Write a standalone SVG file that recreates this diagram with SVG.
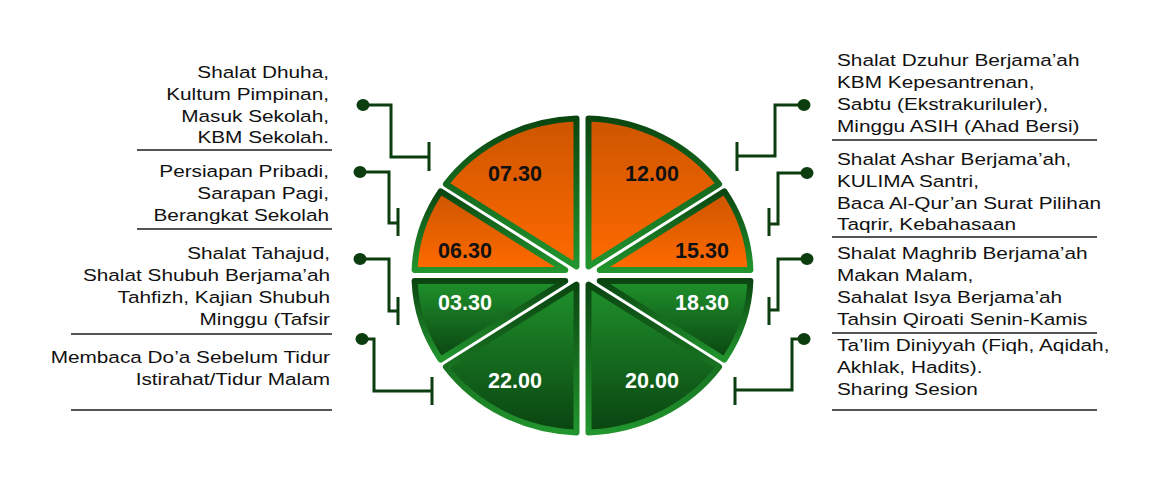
<svg xmlns="http://www.w3.org/2000/svg" width="1160" height="489" viewBox="0 0 1160 489">
<defs>
<linearGradient id="gOr" x1="0" y1="0" x2="0" y2="1"><stop offset="0" stop-color="#cc5500"/><stop offset="1" stop-color="#ff6a00"/></linearGradient>
<linearGradient id="gGr" x1="0" y1="0" x2="0" y2="1"><stop offset="0" stop-color="#1f912b"/><stop offset="1" stop-color="#0a4411"/></linearGradient>
<linearGradient id="gSt" x1="0" y1="0" x2="0" y2="1"><stop offset="0" stop-color="#0b4611"/><stop offset="1" stop-color="#22952e"/></linearGradient>
<style>
.sl{stroke:url(#gSt);stroke-width:6;stroke-linejoin:round}
.or{fill:url(#gOr)}
.gr{fill:url(#gGr)}
.num{font-family:"Liberation Sans",Arial,sans-serif;font-weight:bold;font-size:21.5px;text-anchor:middle}
.dk{fill:#111}
.wt{fill:#fff}
.cn{fill:none;stroke:#0b3d0f;stroke-width:3}
.dot{fill:#0b3d0f}
.lbl{font-family:"Liberation Sans",Arial,sans-serif;font-size:16.5px;fill:#111}
.sep{stroke:#555;stroke-width:2}
</style>
</defs>
<g id="pie">
<g id="s0730"><path class="sl or" d="M 576.5 266.4 L 576.5 118.6 A 168 157 0 0 0 445.9 184.1 Z"/><text class="num dk" x="515" y="181">07.30</text></g>
<g id="s1200"><path class="sl or" d="M 588.5 266.4 L 588.5 118.6 A 168 157 0 0 1 719.1 184.1 Z"/><text class="num dk" x="652" y="181">12.00</text></g>
<g id="s0630"><path class="sl or" d="M 565.3 270 L 440.6 191.4 A 168 157 0 0 0 414.6 270 Z"/><text class="num dk" x="465" y="258">06.30</text></g>
<g id="s1530"><path class="sl or" d="M 599.7 270 L 724.4 191.4 A 168 157 0 0 1 750.4 270 Z"/><text class="num dk" x="702" y="258">15.30</text></g>
<g id="s0330"><path class="sl gr" d="M 565.3 281 L 440.6 359.6 A 168 157 0 0 1 414.6 281 Z"/><text class="num wt" x="465" y="310">03.30</text></g>
<g id="s1830"><path class="sl gr" d="M 599.7 281 L 724.4 359.6 A 168 157 0 0 0 750.4 281 Z"/><text class="num wt" x="702" y="310">18.30</text></g>
<g id="s2200"><path class="sl gr" d="M 576.5 284.6 L 576.5 432.4 A 168 157 0 0 1 445.9 366.9 Z"/><text class="num wt" x="515" y="388">22.00</text></g>
<g id="s2000"><path class="sl gr" d="M 588.5 284.6 L 588.5 432.4 A 168 157 0 0 0 719.1 366.9 Z"/><text class="num wt" x="652" y="388">20.00</text></g>
</g>
<g id="connectors">
<path class="cn" d="M 363 105 H 391 V 157 H 429 M 429 142 V 171"/>
<path class="cn" d="M 360 172 H 389 V 223 H 398 M 398 208 V 236"/>
<path class="cn" d="M 360 259 H 389 V 311 H 398 M 398 297 V 325"/>
<path class="cn" d="M 362 339 H 374 V 391 H 432 M 432 377 V 405"/>
<path class="cn" d="M 804 105 H 775 V 156 H 737 M 737 142 V 171"/>
<path class="cn" d="M 807 173 H 778 V 224 H 769 M 769 208 V 236"/>
<path class="cn" d="M 807 259 H 778 V 310 H 769 M 769 297 V 325"/>
<path class="cn" d="M 804 339 H 792 V 390 H 735 M 735 377 V 405"/>
<ellipse class="dot" cx="363" cy="105" rx="6.5" ry="6"/>
<ellipse class="dot" cx="360" cy="172" rx="6.5" ry="6"/>
<ellipse class="dot" cx="360" cy="259" rx="6.5" ry="6"/>
<ellipse class="dot" cx="362" cy="339" rx="6.5" ry="6"/>
<ellipse class="dot" cx="804" cy="105" rx="6.5" ry="6"/>
<ellipse class="dot" cx="807" cy="173" rx="6.5" ry="6"/>
<ellipse class="dot" cx="807" cy="259" rx="6.5" ry="6"/>
<ellipse class="dot" cx="804" cy="339" rx="6.5" ry="6"/>
</g>
<g id="labels-left" text-anchor="end">
<g id="l0730">
<text class="lbl" transform="translate(329 0) scale(1.26 1)"><tspan x="0" y="78">Shalat Dhuha,</tspan><tspan x="0" y="100">Kultum Pimpinan,</tspan><tspan x="0" y="122">Masuk Sekolah,</tspan><tspan x="0" y="143.5">KBM Sekolah.</tspan></text>
<line class="sep" x1="137" y1="150" x2="332" y2="150"/>
</g>
<g id="l0630">
<text class="lbl" transform="translate(329 0) scale(1.26 1)"><tspan x="0" y="177">Persiapan Pribadi,</tspan><tspan x="0" y="199">Sarapan Pagi,</tspan><tspan x="0" y="221">Berangkat Sekolah</tspan></text>
<line class="sep" x1="137" y1="229" x2="332" y2="229"/>
</g>
<g id="l0330">
<text class="lbl" transform="translate(330 0) scale(1.26 1)"><tspan x="0" y="259">Shalat Tahajud,</tspan><tspan x="0" y="281">Shalat Shubuh Berjama’ah</tspan><tspan x="0" y="303">Tahfizh, Kajian Shubuh</tspan><tspan x="0" y="325">Minggu (Tafsir</tspan></text>
<line class="sep" x1="71" y1="334" x2="332" y2="334"/>
</g>
<g id="l2200">
<text class="lbl" transform="translate(330 0) scale(1.26 1)"><tspan x="0" y="363">Membaca Do’a Sebelum Tidur</tspan><tspan x="0" y="385">Istirahat/Tidur Malam</tspan></text>
<line class="sep" x1="71" y1="410" x2="332" y2="410"/>
</g>
</g>
<g id="labels-right">
<g id="r1200">
<text class="lbl" transform="translate(837 0) scale(1.26 1)"><tspan x="0" y="66">Shalat Dzuhur Berjama’ah</tspan><tspan x="0" y="88">KBM Kepesantrenan,</tspan><tspan x="0" y="110">Sabtu (Ekstrakuriluler),</tspan><tspan x="0" y="132">Minggu ASIH (Ahad Bersi)</tspan></text>
<line class="sep" x1="832" y1="140" x2="1097" y2="140"/>
</g>
<g id="r1530">
<text class="lbl" transform="translate(837 0) scale(1.26 1)"><tspan x="0" y="165">Shalat Ashar Berjama’ah,</tspan><tspan x="0" y="187">KULIMA Santri,</tspan><tspan x="0" y="209">Baca Al-Qur’an Surat Pilihan</tspan><tspan x="0" y="230.5">Taqrir, Kebahasaan</tspan></text>
<line class="sep" x1="832" y1="237" x2="1097" y2="237"/>
</g>
<g id="r1830">
<text class="lbl" transform="translate(837 0) scale(1.26 1)"><tspan x="0" y="259">Shalat Maghrib Berjama’ah</tspan><tspan x="0" y="281">Makan Malam,</tspan><tspan x="0" y="303">Sahalat Isya Berjama’ah</tspan><tspan x="0" y="325">Tahsin Qiroati Senin-Kamis</tspan></text>
<line class="sep" x1="832" y1="333" x2="1097" y2="333"/>
</g>
<g id="r2000">
<text class="lbl" transform="translate(837 0) scale(1.26 1)"><tspan x="0" y="351">Ta’lim Diniyyah (Fiqh, Aqidah,</tspan><tspan x="0" y="373">Akhlak, Hadits).</tspan><tspan x="0" y="395">Sharing Sesion</tspan></text>
<line class="sep" x1="832" y1="410" x2="1097" y2="410"/>
</g>
</g>
</svg>
